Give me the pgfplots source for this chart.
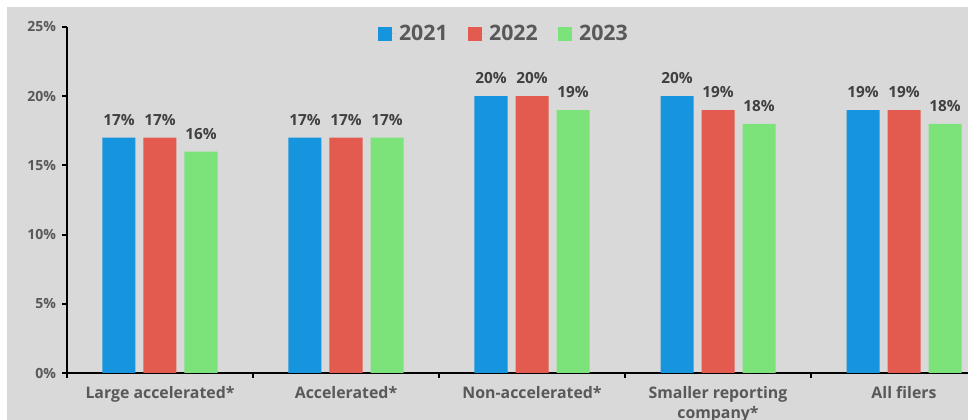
\documentclass[border=0pt]{standalone}
\usepackage{pgfplots}
\pgfplotsset{compat=1.18}
\usepackage{fontspec}
\setmainfont{Open Sans}
\definecolor{bg}{HTML}{D9D9D9}
\definecolor{c1}{HTML}{1794DE}
\definecolor{c2}{HTML}{E35B4F}
\definecolor{c3}{HTML}{7CE27A}
\definecolor{tk}{HTML}{595959}
\definecolor{dl}{HTML}{404040}
\begin{document}
\begin{tikzpicture}
\fill[white] (-50.25pt,-35.25pt) rectangle (675.75pt,279.75pt);
\fill[bg] (-45pt,-35.25pt) rectangle (675.75pt,274.5pt);
\begin{axis}[
  at={(0pt,0pt)}, anchor=south west,
  scale only axis, width=697.5pt, height=259.5pt,
  xmin=-0.5, xmax=4.5, ymin=0, ymax=25,
  ybar=6pt, bar width=24.75pt,
  axis x line*=bottom, axis y line*=left,
  axis line style={-, black, line width=1.5pt},
  xtick={0,1,2,3,4},
  xticklabels={Large accelerated*, Accelerated*, Non-accelerated*, {Smaller reporting\\company*}, All filers},
  xtick style={draw=none},
  extra x ticks={-0.5,0.5,1.5,2.5,3.5,4.5},
  extra x tick labels={},
  extra x tick style={xtick style={draw=black, line width=1.5pt}},
  major tick length=3.75pt, tick align=outside,
  ytick={0,5,10,15,20,25},
  ytick style={draw=black, line width=1.5pt},
  yticklabel={\pgfmathprintnumber{\tick}\%},
  /pgf/number format/assume math mode=true,
  xticklabel style={font=\bfseries\fontsize{11.9}{15}\selectfont, text=tk, align=center, yshift=-3pt},
  yticklabel style={font=\bfseries\fontsize{10.5}{12}\selectfont, text=tk, xshift=-1pt},
  nodes near coords={\pgfmathprintnumber{\pgfplotspointmeta}\%},
  nodes near coords style={font=\bfseries\fontsize{11.5}{12}\selectfont, text=dl, anchor=base, yshift=9.4pt, /pgf/number format/assume math mode=true},
  legend style={at={(0.47,0.98)}, anchor=center, draw=none, fill=none, legend columns=3,
    font=\bfseries\fontsize{16}{18}\selectfont, text=tk,
    /tikz/every even column/.append style={column sep=13pt}},
  legend image code/.code={\fill[#1] (0pt,-5.25pt) rectangle (10.5pt,5.25pt); \path (0pt,0pt) -- (14pt,0pt);},
]
\addplot[fill=c1, draw=none] coordinates {(0,17) (1,17) (2,20) (3,20) (4,19)};
\addplot[fill=c2, draw=none] coordinates {(0,17) (1,17) (2,20) (3,19) (4,19)};
\addplot[fill=c3, draw=none] coordinates {(0,16) (1,17) (2,19) (3,18) (4,18)};
\legend{2021,2022,2023}
\end{axis}
\pgfresetboundingbox
\useasboundingbox (-50.25pt,-35.25pt) rectangle (675.75pt,279.75pt);
\end{tikzpicture}
\end{document}
